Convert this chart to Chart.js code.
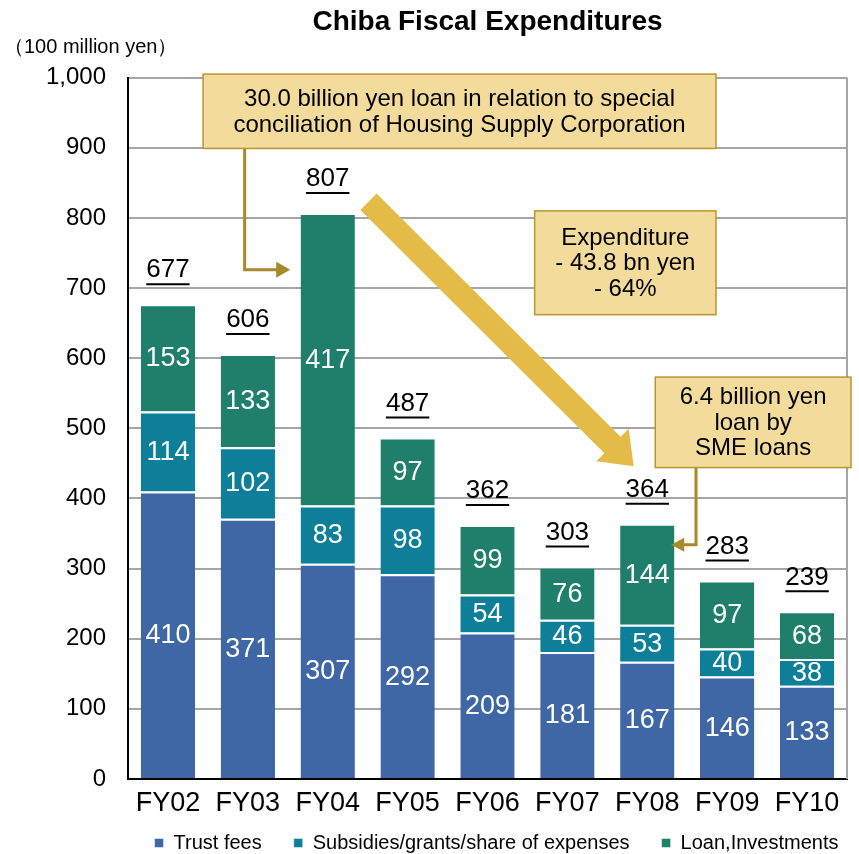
<!DOCTYPE html>
<html>
<head>
<meta charset="utf-8">
<script src="https://cdn.jsdelivr.net/npm/chart.js@4"></script>
<style>
  html, body { margin: 0; padding: 0; background: #fff; }
  #wrap { width: 859px; height: 854px; }
</style>
</head>
<body>
<div id="wrap"><canvas id="chart"></canvas></div>
<script>
// Chart values (100 million yen)
const years = ["FY02", "FY03", "FY04", "FY05", "FY06", "FY07", "FY08", "FY09", "FY10"];
const trustFees = [410, 371, 307, 292, 209, 181, 167, 146, 133];
const subsidies = [114, 102, 83, 98, 54, 46, 53, 40, 38];
const loans = [153, 133, 417, 97, 99, 76, 144, 97, 68];
const totals = [677, 606, 807, 487, 362, 303, 364, 283, 239];

const FONT = "'Liberation Sans', Arial, sans-serif";
const GOLD = "#a8892b";

// Callout boxes, placed in (category index, value) units
const callouts = [
    { x0: 0.44, x1: 6.86, y0: 1005, y1: 899, lines: ["30.0 billion yen loan in relation to special", "conciliation of Housing Supply Corporation"] },
    { x0: 4.59, x1: 6.86, y0: 810, y1: 662, lines: ["Expenditure", "- 43.8 bn yen", "- 64%"] },
    { x0: 6.10, x1: 8.55, y0: 573, y1: 444, lines: ["6.4 billion yen", "loan by", "SME loans"] }
];

// Small helper for a filled triangle arrow head
const arrowHead = (ctx, tx, ty, dx, dy, len, half, color) => {
    const n = Math.hypot(dx, dy), ux = dx / n, uy = dy / n;
    const bx = tx - ux * len, by = ty - uy * len;
    ctx.fillStyle = color;
    ctx.beginPath();
    ctx.moveTo(tx, ty);
    ctx.lineTo(bx - uy * half, by + ux * half);
    ctx.lineTo(bx + uy * half, by - ux * half);
    ctx.closePath();
    ctx.fill();
};

const decorations = {
    id: "decorations",
    // Nudge the legend so it sits under the plot like the original
    afterLayout(chart) {
        const lg = chart.legend;
        lg.left += 73;
        lg.right += 73;
        lg.top -= 23;
        lg.bottom -= 23;
    },
    afterDraw(chart) {
        const ctx = chart.ctx, a = chart.chartArea;
        const xs = chart.scales.x, ys = chart.scales.y;
        const px = (i) => xs.getPixelForValue(i), py = (v) => ys.getPixelForValue(v);
        ctx.save();

        // Right border of the plot
        ctx.strokeStyle = "#a6a6a6";
        ctx.lineWidth = 2;
        ctx.beginPath();
        ctx.moveTo(a.right, a.top);
        ctx.lineTo(a.right, a.bottom);
        ctx.stroke();

        // Unit label
        ctx.fillStyle = "#000";
        ctx.font = `20px ${FONT}`;
        ctx.textAlign = "left";
        ctx.textBaseline = "middle";
        ctx.fillText("（100 million yen）", 4, 47);

        // Segment labels
        ctx.font = `27px ${FONT}`;
        ctx.textAlign = "center";
        chart.data.datasets.forEach((ds, di) => {
            chart.getDatasetMeta(di).data.forEach((bar, i) => {
                ctx.fillStyle = "#fff";
                ctx.fillText(String(ds.data[i]), bar.x, (bar.y + bar.base) / 2 + 1);
            });
        });

        // Totals, underlined
        ctx.font = `26px ${FONT}`;
        ctx.fillStyle = "#000";
        ctx.strokeStyle = "#000";
        ctx.lineWidth = 2;
        totals.forEach((t, i) => {
            const cx = px(i), cy = py(t) - 34;
            ctx.fillText(String(t), cx, cy);
            const w = ctx.measureText(String(t)).width;
            ctx.beginPath();
            ctx.moveTo(cx - w / 2, cy + 14);
            ctx.lineTo(cx + w / 2, cy + 14);
            ctx.stroke();
        });

        // Big downward trend arrow
        const sx = px(2.51), sy = py(823), tx = px(5.83), ty = py(446);
        const dx = tx - sx, dy = ty - sy, n = Math.hypot(dx, dy);
        const ux = dx / n, uy = dy / n;
        const bx = tx - ux * 30, by = ty - uy * 30;
        ctx.fillStyle = "#e5bb48";
        ctx.beginPath();
        ctx.moveTo(sx - uy * 11.5, sy + ux * 11.5);
        ctx.lineTo(bx - uy * 11.5, by + ux * 11.5);
        ctx.lineTo(bx - uy * 23, by + ux * 23);
        ctx.lineTo(tx, ty);
        ctx.lineTo(bx + uy * 23, by - ux * 23);
        ctx.lineTo(bx + uy * 11.5, by - ux * 11.5);
        ctx.lineTo(sx + uy * 11.5, sy - ux * 11.5);
        ctx.closePath();
        ctx.fill();

        // Connectors
        ctx.strokeStyle = GOLD;
        ctx.lineWidth = 3;
        ctx.beginPath();
        ctx.moveTo(px(0.96), py(899));
        ctx.lineTo(px(0.96), py(726));
        ctx.lineTo(px(1.40), py(726));
        ctx.stroke();
        arrowHead(ctx, px(1.53), py(726), 1, 0, 14, 8, GOLD);

        ctx.beginPath();
        ctx.moveTo(px(6.61), py(444));
        ctx.lineTo(px(6.61), py(334));
        ctx.lineTo(px(6.42), py(334));
        ctx.stroke();
        arrowHead(ctx, px(6.30), py(334), -1, 0, 13, 7, GOLD);

        // Callout boxes
        ctx.font = `24px ${FONT}`;
        callouts.forEach((c) => {
            const l = px(c.x0), r = px(c.x1), t = py(c.y0), b = py(c.y1);
            ctx.fillStyle = "#f3dc9b";
            ctx.fillRect(l, t, r - l, b - t);
            ctx.strokeStyle = "#b8962e";
            ctx.lineWidth = 1.5;
            ctx.strokeRect(l, t, r - l, b - t);
            ctx.fillStyle = "#000";
            const lh = 25.5, mid = (t + b) / 2, first = mid - (c.lines.length - 1) * lh / 2;
            c.lines.forEach((line, k) => ctx.fillText(line, (l + r) / 2, first + k * lh + 1));
        });

        ctx.restore();
    }
};

new Chart(document.getElementById("chart"), {
    type: "bar",
    data: {
        labels: years,
        datasets: [
            { label: "Trust fees", data: trustFees, backgroundColor: "#3f67a6" },
            { label: "Subsidies/grants/share of expenses", data: subsidies, backgroundColor: "#0e7f99" },
            { label: "Loan,Investments", data: loans, backgroundColor: "#1f7f6b" }
        ].map(d => Object.assign(d, {
            borderColor: "#fff",
            borderWidth: { top: 2, left: 0, right: 0, bottom: 0 },
            borderSkipped: false,
            barPercentage: 0.68,
            categoryPercentage: 1
        }))
    },
    options: {
        responsive: true,
        maintainAspectRatio: false,
        animation: false,
        layout: { padding: { left: 0, right: 12, top: 0, bottom: -32 } },
        plugins: {
            title: {
                display: true,
                text: "Chiba Fiscal Expenditures",
                color: "#000",
                font: { family: FONT, size: 28, weight: "bold" },
                padding: { top: 5, bottom: 39 },
                fullSize: false
            },
            legend: {
                position: "bottom",
                labels: {
                    color: "#000",
                    font: { family: FONT, size: 20, lineHeight: 1 },
                    boxWidth: 9,
                    boxHeight: 9,
                    padding: 32
                }
            },
            tooltip: { enabled: false }
        },
        scales: {
            x: {
                stacked: true,
                afterFit: (s) => { s.height = 45; },
                grid: { display: false, drawTicks: false },
                border: { color: "#000", width: 2 },
                ticks: { color: "#000", font: { family: FONT, size: 27 }, padding: 8, maxRotation: 0 }
            },
            y: {
                stacked: true,
                min: 0,
                max: 1000,
                afterFit: (s) => { s.width = 128; },
                grid: { color: "#a6a6a6", lineWidth: 2, drawTicks: false },
                border: { color: "#000", width: 2 },
                ticks: {
                    stepSize: 100,
                    color: "#000",
                    padding: 22,
                    font: { family: FONT, size: 24 },
                    callback: v => v.toLocaleString("en-US")
                }
            }
        }
    },
    plugins: [decorations]
});
</script>
</body>
</html>
